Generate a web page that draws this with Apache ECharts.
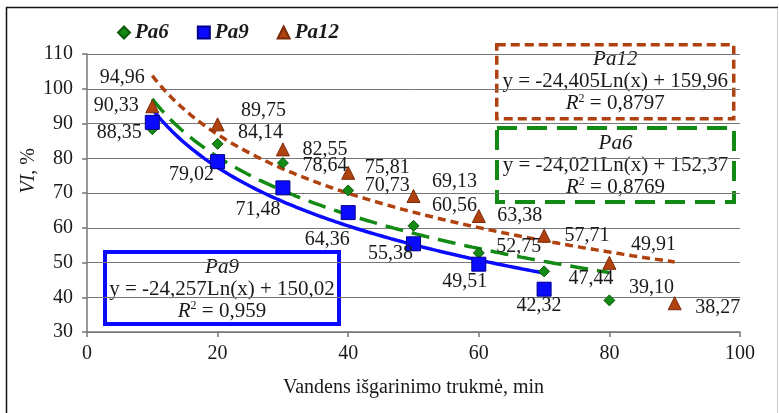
<!DOCTYPE html>
<html>
<head>
<meta charset="utf-8">
<script src="https://cdn.jsdelivr.net/npm/echarts@6/dist/echarts.min.js"></script>
<style>
  html, body { margin: 0; padding: 0; background: #fff; }
  #chart { width: 779px; height: 413px; }
</style>
</head>
<body>
<div id="chart"></div>
<script>
// Evaporation time, min
const timePa6 = [10, 20, 30, 40, 50, 60, 70, 80];
const timePa9 = [10, 20, 30, 40, 50, 60, 70];
const timePa12 = [10, 20, 30, 40, 50, 60, 70, 80, 90];

// VI, %
const viPa6 = [88.35, 84.14, 78.64, 70.73, 60.56, 52.75, 47.44, 39.10];
const viPa9 = [90.33, 79.02, 71.48, 64.36, 55.38, 49.51, 42.32];
const viPa12 = [94.96, 89.75, 82.55, 75.81, 69.13, 63.38, 57.71, 49.91, 38.27];

// Logarithmic trend: y = a*ln(x) + b
const trendPa6 = { a: -24.021, b: 152.37, r2: '0,8769' };
const trendPa9 = { a: -24.257, b: 150.02, r2: '0,959' };
const trendPa12 = { a: -24.405, b: 159.96, r2: '0,8797' };

const seriesNames = ['Pa6', 'Pa9', 'Pa12'];
const xTicks = [0, 20, 40, 60, 80, 100];
const yTicks = [30, 40, 50, 60, 70, 80, 90, 100, 110];

// Label offsets (px) relative to each marker
const offPa6 = [[-33, 4], [43, -11], [42, 3], [39, -5], [41, -20], [40, -6], [47, 7], [42, -13]];
const offPa9 = [[-36, -17], [-26, 13], [-25, 22], [-21, 27], [-23, 10], [-14, 18], [-5, 17]];
const offPa12 = [[-30, -29], [46, -14], [42, 0], [39, -5], [41, -14], [41, 0], [43, 0], [44, -18], [43, 4]];

const C6 = '#138a13', C9 = '#0a0aff', C12 = '#b0420f';
const FONT = '"Liberation Serif", "Times New Roman", serif';
const TXT = '#1a1a1a';

const fmt = v => v.toFixed(2).replace('.', ',');
const fmtCoef = (v, d) => v.toFixed(d).replace('.', ',');

function points(xs, ys, offs) {
  return xs.map((x, i) => ({
    value: [x, ys[i]],
    label: { offset: offs[i] }
  }));
}

function trendCurve(t, x0, x1) {
  const out = [];
  for (let x = x0; x <= x1 + 1e-9; x += 0.5) out.push([x, t.a * Math.log(x) + t.b]);
  return out;
}

const labelBase = {
  show: true, position: 'inside', color: TXT,
  textBorderWidth: 0, textShadowBlur: 0,
  fontFamily: FONT, fontSize: 20,
  formatter: p => fmt(p.value[1])
};

const chart = echarts.init(document.getElementById('chart'), null, { renderer: 'canvas' });

function eqBox(x, y, w, h, color, lineType, lineWidth, name, t) {
  const sign = t.b >= 0 ? '+' : '-';
  const eq = 'y = ' + fmtCoef(t.a, 3) + 'Ln(x) ' + sign + ' ' + fmtCoef(Math.abs(t.b), 2);
  return {
    type: 'group', left: x, top: y, z: 50,
    children: [
      { type: 'rect', shape: { x: 0, y: 0, width: w, height: h },
        style: { fill: '#fff', stroke: color, lineWidth: lineWidth, lineDash: lineType } },
      { type: 'text', x: w / 2, y: 4,
        style: {
          text: '{i|' + name + '}\n{n|' + eq + '}\n{i|R}{sup|2}{n| = ' + t.r2 + '}',
          align: 'center', verticalAlign: 'top',
          fill: TXT, lineHeight: 22,
          rich: {
            i: { fontFamily: FONT, fontSize: 21, fontStyle: 'italic', lineHeight: 22, fill: TXT },
            n: { fontFamily: FONT, fontSize: 21, lineHeight: 22, fill: TXT },
            sup: { fontFamily: FONT, fontSize: 12, verticalAlign: 'top', lineHeight: 22, fill: TXT }
          }
        } }
    ]
  };
}

chart.setOption({
  backgroundColor: '#fff',
  animation: false,
  grid: { left: 87, right: 39, top: 54, bottom: 81 },
  legend: {
    data: [
      { name: 'Pa6', icon: 'diamond' },
      { name: 'Pa9', icon: 'rect' },
      { name: 'Pa12', icon: 'triangle' }
    ],
    left: 112, top: 17, itemGap: 28, itemWidth: 12, itemHeight: 12,
    textStyle: { fontFamily: FONT, fontSize: 21, fontWeight: 'bold', fontStyle: 'italic', color: TXT }
  },
  xAxis: {
    type: 'value', min: 0, max: 100, interval: 20,
    name: 'Vandens išgarinimo trukmė, min', nameLocation: 'middle', nameGap: 46,
    nameTextStyle: { fontFamily: FONT, fontSize: 20, color: TXT },
    axisLine: { lineStyle: { color: '#777', width: 1.5 } },
    axisTick: { show: true, length: 5, lineStyle: { color: '#777', width: 1.5 } },
    axisLabel: { fontFamily: FONT, fontSize: 20, color: TXT, margin: 12,
      customValues: xTicks },
    splitLine: { show: false }
  },
  yAxis: {
    type: 'value', min: 30, max: 110, interval: 10,
    axisLine: { show: true, lineStyle: { color: '#777', width: 1.5 } },
    axisTick: { show: true, length: 5, lineStyle: { color: '#777', width: 1.5 } },
    axisLabel: { fontFamily: FONT, fontSize: 20, color: TXT, margin: 14,
      customValues: yTicks },
    splitLine: { show: true, lineStyle: { color: '#777', width: 1 } }
  },
  graphic: [
    { type: 'text', left: 19, top: 148, rotation: Math.PI / 2, z: 10,
      style: {
        text: '{i|VI}{n|, %}',
        rich: {
          i: { fontFamily: FONT, fontSize: 20, fontStyle: 'italic', fill: TXT },
          n: { fontFamily: FONT, fontSize: 20, fill: TXT }
        }
      } },
    { type: 'line', shape: { x1: 6.5, y1: 7, x2: 6.5, y2: 413 }, style: { stroke: '#111', lineWidth: 1.5 }, z: 1 },
    { type: 'line', shape: { x1: 6, y1: 7.5, x2: 778, y2: 7.5 }, style: { stroke: '#111', lineWidth: 1.5 }, z: 1 },
    { type: 'line', shape: { x1: 777.5, y1: 8, x2: 777.5, y2: 413 }, style: { stroke: '#ccc', lineWidth: 1 }, z: 1 },
    eqBox(495, 43, 237, 74, C12, [9, 5], 3.5, 'Pa12', trendPa12),
    eqBox(495, 126, 237, 74, C6, [20, 10], 4, 'Pa6', trendPa6),
    eqBox(103, 250, 234, 72, C9, null, 4, 'Pa9', trendPa9)
  ],
  series: [
    { name: 'Pa6 trend', type: 'line', data: trendCurve(trendPa6, 10, 80), showSymbol: false, silent: true,
      lineStyle: { color: C6, width: 3.5, type: [18, 9] }, z: 3 },
    { name: 'Pa9 trend', type: 'line', data: trendCurve(trendPa9, 10, 70), showSymbol: false, silent: true,
      lineStyle: { color: C9, width: 3.5 }, z: 3 },
    { name: 'Pa12 trend', type: 'line', data: trendCurve(trendPa12, 10, 90), showSymbol: false, silent: true,
      lineStyle: { color: C12, width: 3.5, type: [8, 5] }, z: 3 },
    { name: 'Pa6', type: 'scatter', symbol: 'diamond', symbolSize: 11,
      itemStyle: { color: C6, borderColor: '#0b5a0b', borderWidth: 1, opacity: 1 },
      data: points(timePa6, viPa6, offPa6), label: labelBase, z: 5 },
    { name: 'Pa9', type: 'scatter', symbol: 'rect', symbolSize: 14,
      itemStyle: { color: C9, borderColor: '#00008a', borderWidth: 1, opacity: 1 },
      data: points(timePa9, viPa9, offPa9), label: labelBase, z: 5 },
    { name: 'Pa12', type: 'scatter', symbol: 'triangle', symbolSize: 13,
      itemStyle: { color: C12, borderColor: '#7a2a08', borderWidth: 1, opacity: 1 },
      data: points(timePa12, viPa12, offPa12), label: labelBase, z: 5 }
  ]
});
</script>
</body>
</html>
